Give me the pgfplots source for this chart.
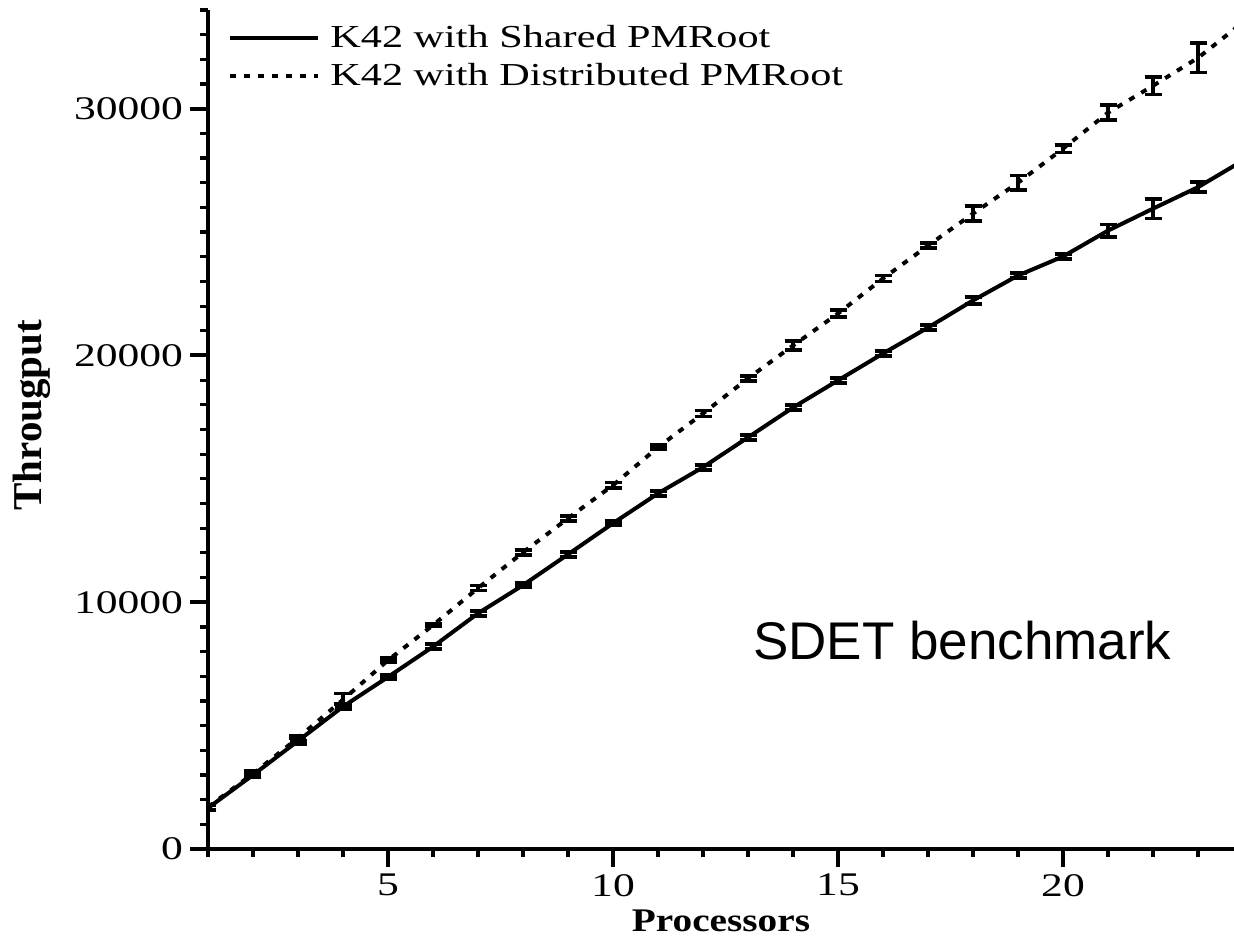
\documentclass[border=0pt]{standalone}
\usepackage{fontspec}
\setmainfont{Liberation Serif}
\newfontfamily\sansfont{Liberation Sans}
\usepackage{graphicx}
\usepackage{pgfplots}
\pgfplotsset{compat=1.18}
\newcommand{\hs}[1]{\scalebox{1.32}[1]{#1}}

\pgfplotstableread{
x y e
1 1660 100
2 3000 80
3 4380 120
4 5770 100
5 6970 80
6 8200 100
7 9550 100
8 10690 80
9 11940 100
10 13200 80
11 14410 100
12 15470 100
13 16680 100
14 17890 100
15 18990 100
16 20080 100
17 21130 100
18 22230 150
19 23240 100
20 24010 100
21 25060 250
22 25950 400
23 26820 200
24 27900 200
}\shared

\pgfplotstableread{
x y e
1 1700 100
2 3050 100
3 4500 100
4 6050 250
5 7650 80
6 9070 60
7 10570 100
8 12020 100
9 13400 100
10 14740 120
11 16280 80
12 17650 120
13 19070 100
14 20400 180
15 21700 150
16 23120 120
17 24450 100
18 25750 300
19 27000 300
20 28380 150
21 29840 300
22 30930 350
23 32060 600
24 33500 300
}\distributed

\begin{document}
\begin{tikzpicture}
\begin{axis}[
  scale only axis, width=513pt, height=419.5pt,
  xmin=1, xmax=23.8, ymin=0, ymax=34000,
  axis x line=bottom, axis y line=left,
  axis line style={-, line width=2pt},
  xtick={5,10,15,20}, xticklabels={\hs{5},\hs{10},\hs{15},\hs{20}},
  ytick={0,10000,20000,30000}, yticklabels={\hs{0},\hs{10000},\hs{20000},\hs{30000}},
  minor xtick={1,...,24}, minor ytick={0,1000,...,34000},
  tick align=outside, major tick length=9pt, minor tick length=4pt,
  tick style={line width=2pt, black},
  minor tick style={line width=1.6pt},
  tick label style={font=\fontsize{16.5}{18}\selectfont},
  xlabel={\scalebox{1.19}[1]{\textbf{Processors}}}, ylabel={\textbf{Througput}},
  xlabel style={font=\fontsize{16.5}{18}\selectfont},
  ylabel style={font=\fontsize{20.5}{22}\selectfont, at={(axis description cs:-0.172,0.517)}, anchor=center},
  legend style={draw=none, fill=none, at={(0.0195,0.987)}, anchor=north west,
    font=\fontsize{16}{18}\selectfont, row sep=2.5pt, inner sep=0pt},
  legend cell align=left,
  legend image code/.code={\draw[#1] (0pt,0pt) -- (44pt,0pt);},
]
\addplot[black, line width=2pt,
  error bars/.cd, y dir=both, y explicit,
  error bar style={solid, line width=1.6pt},
  error mark options={rotate=90, mark size=4.25pt, line width=1.8pt, solid}]
  table[x=x, y=y, y error=e] {\shared};
\addlegendentry{\hspace{3pt}\hs{K42 with Shared PMRoot}}
\addplot[black, line width=2pt, dash pattern=on 3pt off 4pt,
  error bars/.cd, y dir=both, y explicit,
  error bar style={solid, line width=1.6pt},
  error mark options={rotate=90, mark size=4.25pt, line width=1.8pt, solid}]
  table[x=x, y=y, y error=e] {\distributed};
\addlegendentry{\hspace{3pt}\hs{K42 with Distributed PMRoot}}
\node[font=\sansfont\fontsize{26.5}{30}\selectfont] at (axis cs:17.76,8460) {SDET benchmark};
\coordinate (o) at (rel axis cs:0,0);
\end{axis}
\pgfresetboundingbox
\useasboundingbox (o) ++(-104pt,-45.5pt) rectangle ++(617pt,470pt);
\end{tikzpicture}
\end{document}
